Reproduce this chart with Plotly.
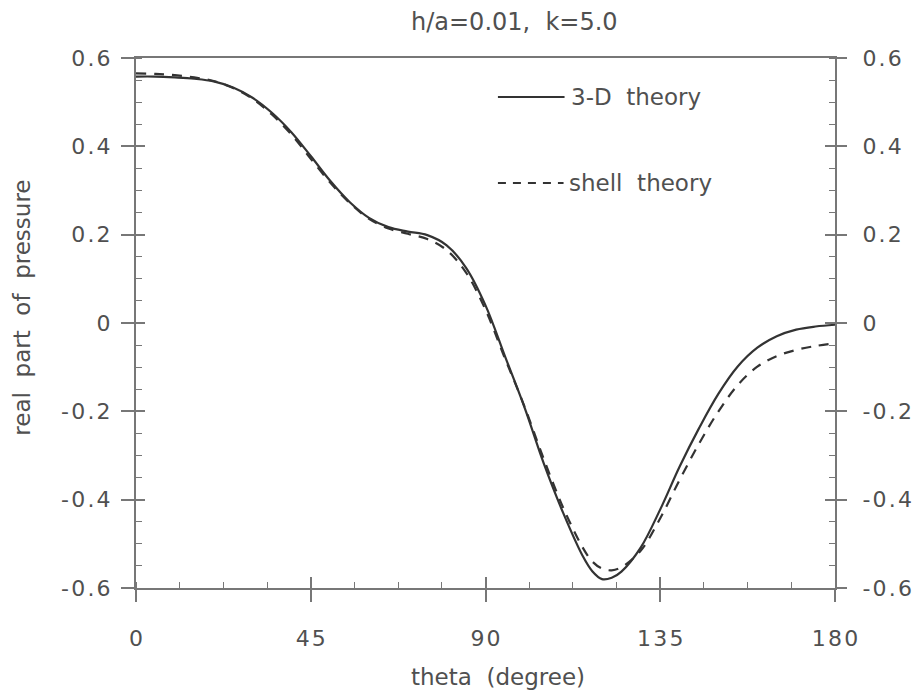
import plotly.graph_objects as go

# ---- data ----
theta_3d = [0, 5, 10, 15, 20, 25, 30, 35, 40, 45, 50, 55, 60, 65, 70, 75, 80, 85, 90,
            95, 100, 105, 110, 115, 117.5, 120, 122.5, 125, 130, 135, 140, 145, 150,
            155, 160, 165, 170, 175, 180]
p_3d = [0.558, 0.558, 0.556, 0.553, 0.547, 0.533, 0.510, 0.476, 0.432, 0.378, 0.322,
        0.274, 0.238, 0.217, 0.207, 0.199, 0.176, 0.125, 0.040, -0.075, -0.190, -0.318,
        -0.430, -0.527, -0.562, -0.580, -0.577, -0.563, -0.508, -0.422, -0.325, -0.238,
        -0.160, -0.098, -0.056, -0.030, -0.015, -0.008, -0.004]

theta_shell = [0, 5, 10, 15, 20, 25, 30, 35, 40, 45, 50, 55, 60, 65, 70, 75, 80, 85, 90,
               95, 100, 105, 110, 115, 117.5, 120, 122.5, 125, 130, 135, 140, 145, 150,
               155, 160, 165, 170, 175, 180]
p_shell = [0.565, 0.564, 0.561, 0.556, 0.548, 0.532, 0.508, 0.472, 0.427, 0.372, 0.318,
           0.272, 0.236, 0.214, 0.202, 0.190, 0.165, 0.114, 0.030, -0.080, -0.188, -0.308,
           -0.418, -0.508, -0.540, -0.556, -0.560, -0.553, -0.515, -0.442, -0.355, -0.273,
           -0.200, -0.140, -0.099, -0.075, -0.061, -0.052, -0.046]

HS = "\u200a"  # hair space, mimics the wide letter spacing of the original labels
x_tickvals = [0, 45, 90, 135, 180]
x_ticktext = ["0", HS.join("45"), HS.join("90"), HS.join("135"), HS.join("180")]
y_tickvals = [-0.6, -0.4, -0.2, 0, 0.2, 0.4, 0.6]
y_ticktext = [HS.join(s) for s in ["-0.6", "-0.4", "-0.2", "0", "0.2", "0.4", "0.6"]]

title_text = "h/a=0.01,  k=5.0"
x_title = "theta  (degree)"
y_title = "real  part  of  pressure"
legend_names = ["3-D  theory", "shell  theory"]

# ---- layout constants ----
W, H = 924, 697
L, R, T, B = 136, 839, 58, 588
FONT = "DejaVu Sans"
TXT = "#505050"
AX = "#777777"
CURVE = "#333333"

def px_x(px):
    return (px - L) / (R - L)

def px_y(py):
    return (B - py) / (B - T)

fig = go.Figure()
fig.add_trace(go.Scatter(x=theta_3d, y=p_3d, mode="lines", name=legend_names[0],
                         line=dict(color=CURVE, width=2.2, shape="spline", smoothing=1.0),
                         showlegend=False))
fig.add_trace(go.Scatter(x=theta_shell, y=p_shell, mode="lines", name=legend_names[1],
                         line=dict(color=CURVE, width=2.2, dash="10px,8px", shape="spline",
                                   smoothing=1.0),
                         showlegend=False))

common_x = dict(range=[0, 180], tickmode="array", tickvals=x_tickvals, showgrid=False,
                zeroline=False, fixedrange=True)
common_y = dict(range=[-0.6, 0.6], tickmode="array", tickvals=y_tickvals, showgrid=False,
                zeroline=False, fixedrange=True)

tickfont = dict(family=FONT, size=22, color=TXT)

fig.update_layout(
    width=W, height=H,
    margin=dict(l=L, r=W - R, t=T, b=H - B, pad=0),
    paper_bgcolor="white", plot_bgcolor="white",
    showlegend=False,
    xaxis=dict(**common_x, ticktext=x_ticktext, ticks="outside", ticklen=12, tickwidth=1.5,
               tickcolor=AX, showline=True, linecolor=AX, linewidth=2, mirror=True,
               tickfont=tickfont, ticklabelstandoff=18,
               minor=dict(ticks="inside", dtick=11.25, tick0=0, ticklen=6, tickwidth=1.3,
                          tickcolor=AX)),
    xaxis2=dict(**common_x, overlaying="x", anchor="y", side="bottom", ticks="inside",
                ticklen=11, tickwidth=1.5, tickcolor=AX, showticklabels=False,
                showline=False),
    yaxis=dict(**common_y, ticktext=y_ticktext, ticks="outside", ticklen=13, tickwidth=1.5,
               tickcolor=AX, showline=True, linecolor=AX, linewidth=2, mirror=False,
               tickfont=tickfont, ticklabelstandoff=6,
               minor=dict(ticks="inside", dtick=0.05, tick0=0, ticklen=6, tickwidth=1.3,
                          tickcolor=AX)),
    yaxis2=dict(**common_y, ticktext=y_ticktext, overlaying="y", anchor="x", side="right",
                ticks="outside", ticklen=10, tickwidth=1.5, tickcolor=AX, showline=True,
                linecolor=AX, linewidth=2, tickfont=tickfont, ticklabelstandoff=11,
                minor=dict(ticks="inside", dtick=0.05, tick0=0, ticklen=6, tickwidth=1.3,
                           tickcolor=AX)),
    yaxis3=dict(**common_y, overlaying="y", anchor="x", side="left", ticks="inside",
                ticklen=9, tickwidth=1.5, tickcolor=AX, showticklabels=False, showline=False),
    yaxis4=dict(**common_y, overlaying="y", anchor="x", side="right", ticks="inside",
                ticklen=10, tickwidth=1.5, tickcolor=AX, showticklabels=False, showline=False),
)

# invisible traces so the overlay axes are drawn
for xa, ya in [("x2", "y"), ("x", "y2"), ("x", "y3"), ("x", "y4")]:
    fig.add_trace(go.Scatter(x=[None], y=[None], xaxis=xa, yaxis=ya, showlegend=False,
                             hoverinfo="skip"))

annotations = [
    dict(text=title_text, x=px_x(517), y=px_y(22), xref="paper", yref="paper",
         showarrow=False, xanchor="center", yanchor="middle",
         font=dict(family=FONT, size=24, color=TXT)),
    dict(text=x_title, x=px_x(500), y=px_y(677), xref="paper", yref="paper",
         showarrow=False, xanchor="center", yanchor="middle",
         font=dict(family=FONT, size=23, color=TXT)),
    dict(text=y_title, x=px_x(21), y=px_y(308), xref="paper", yref="paper",
         showarrow=False, xanchor="center", yanchor="middle", textangle=-90,
         font=dict(family=FONT, size=23, color=TXT)),
    dict(text=legend_names[0], x=px_x(571), y=px_y(97), xref="paper", yref="paper",
         showarrow=False, xanchor="left", yanchor="middle",
         font=dict(family=FONT, size=23, color=TXT)),
    dict(text=legend_names[1], x=px_x(569), y=px_y(183), xref="paper", yref="paper",
         showarrow=False, xanchor="left", yanchor="middle",
         font=dict(family=FONT, size=23, color=TXT)),
]
fig.update_layout(annotations=annotations)

fig.add_shape(type="line", xref="paper", yref="paper", x0=px_x(500), x1=px_x(567),
              y0=px_y(97), y1=px_y(97), line=dict(color=CURVE, width=2))
fig.add_shape(type="line", xref="paper", yref="paper", x0=px_x(500), x1=px_x(566),
              y0=px_y(183), y1=px_y(183), line=dict(color=CURVE, width=2, dash="8px,7px"))

fig.write_html("out.html")
